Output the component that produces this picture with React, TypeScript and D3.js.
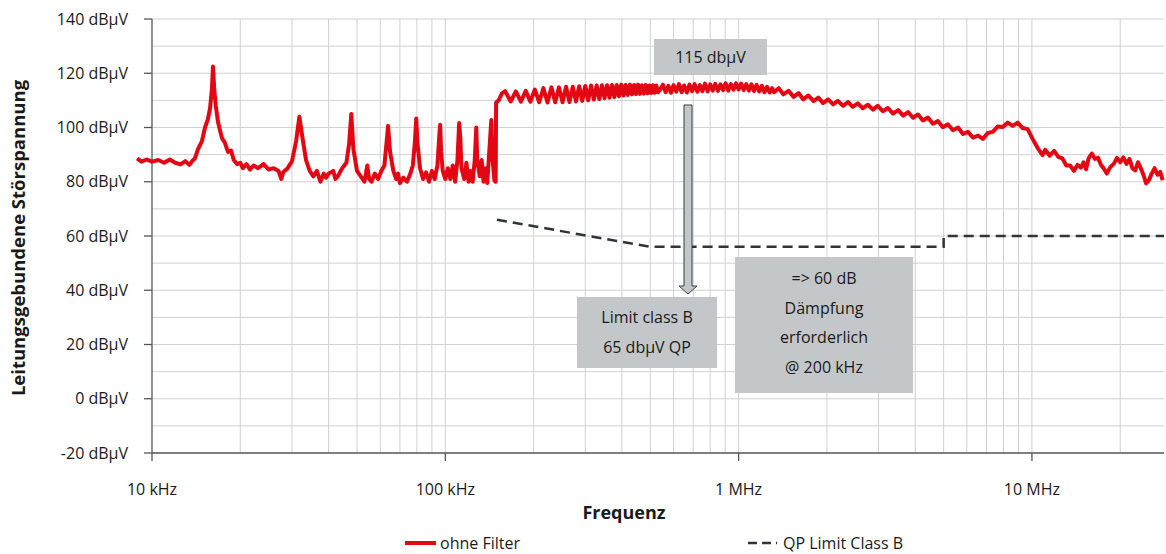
import React from 'react';
import * as d3 from 'd3';

const W = 1166;
const H = 554;
const M = { left: 152, right: 1164, top: 19, bottom: 453 };
const FONT = "'Open Sans', sans-serif";
const RED = '#e30613';
const DARK = '#2f3438';
const BOX = '#c3c7c9';

// spectrum "ohne Filter": [frequency kHz, level dBµV]
const harmonicsBand: [number, number][] = [
  [8.9, 88.6], [9.2, 87.4], [9.6, 88.2], [10, 87.4], [10.5, 88], [11, 87], [11.5, 88.2], [12, 87],
  [12.5, 86.4], [13, 87.6], [13.4, 86.2], [13.8, 88], [14.0, 88.5], [14.35, 92], [14.8, 95],
  [15.16, 100], [15.5, 103], [15.77, 107], [16.0, 114], [16.14, 122.5], [16.3, 114], [16.5, 108],
  [16.79, 102], [17.05, 99], [17.33, 96], [17.7, 94.5], [18.16, 91], [18.6, 91.5], [19.0, 88],
  [19.49, 86.5], [20.0, 87], [20.4, 85], [21, 86.5], [21.6, 84.5], [22.2, 86], [23, 85], [24, 86.5],
  [25, 84.5], [26, 85], [27, 84], [27.6, 81], [28, 83.5], [29, 85], [30, 87.5], [31, 95],
  [31.8, 104], [32.5, 97], [33.5, 88], [34.5, 84], [35.5, 82], [36.5, 84], [37.5, 80], [38.5, 83],
  [39.2, 81.5], [40, 83], [41.5, 84], [42.2, 81], [43, 82], [44.5, 85], [46, 87], [47, 94],
  [47.8, 105], [48.6, 92], [50, 84], [51.5, 82], [53, 80], [54.2, 86], [55, 81], [56, 80],
  [57.5, 83], [59, 81], [60.5, 84], [62, 86], [63, 94], [63.8, 100.6], [64.8, 91], [66.5, 84],
  [68, 81], [69, 83], [70, 79.5], [72, 81.5], [74, 80], [76, 83], [77.5, 86], [78.8, 95],
  [79.6, 103.3], [80.4, 94], [82, 85], [84, 81], [86, 83.5], [88, 80], [90, 84], [92, 81], [94, 86],
  [95.4, 97], [96, 101], [96.8, 91], [98, 84], [100, 81], [102, 85], [104, 81], [106, 86], [108, 80],
  [110, 88], [111.5, 101.7], [112.5, 96], [113.5, 85], [116, 81], [118, 87], [120, 80], [122, 84],
  [124, 80], [126, 88], [127.5, 100], [128.5, 88], [131, 82], [133, 88], [135, 80], [137, 85],
  [139, 79.5], [141, 90], [143.5, 102.8], [145, 88], [147, 80.5], [148.5, 80],
];

const rippleBand: [number, number][] = [
  [149, 109.2], [152, 110], [156, 112.6], [160, 113.4], [167, 109.6], [174, 113.3], [181, 109.5],
  [188, 113.5], [195, 109.5], [202, 114], [209, 109.3], [216, 114.5], [223, 109.2], [230, 114.8],
  [237, 109.3], [244, 114.8], [251, 109.3], [258, 115], [265, 109.4], [272, 115], [279, 109.6],
  [286, 115.2], [293, 109.8], [300, 115.3], [307, 110], [314, 115.5], [321, 110.3], [328, 115.5],
  [335, 110.5], [342, 115.6], [349, 110.8], [356, 115.6], [363, 111], [370, 115.7], [377, 111.2],
  [384, 115.7], [391, 111.5], [398, 115.8], [405, 111.8], [412, 115.7], [419, 112], [426, 115.8],
  [433, 112.2], [440, 115.7], [447, 112.3], [454, 115.8], [461, 112.4], [468, 115.6], [475, 112.5],
  [482, 115.7], [489, 112.6], [496, 115.5], [503, 112.7], [510, 115.6], [517, 112.8], [524, 115.5],
  [531, 113],
];

const plateauBand: [number, number][] = [
  [540, 114], [552, 115.8], [564, 113], [576, 115.4], [588, 112.8], [600, 115.6], [613, 113.2],
  [626, 116], [639, 113], [652, 115.5], [666, 112.9], [680, 115.8], [694, 113.4], [708, 116],
  [723, 113.2], [738, 115.6], [753, 113.4], [768, 116.2], [784, 113.3], [800, 115.9], [816, 113.6],
  [833, 116.1], [850, 113.5], [867, 115.9], [885, 113.8], [903, 116.3], [922, 113.6], [941, 116],
  [960, 113.9], [980, 116.3], [1000, 114], [1020, 116.2], [1041, 113.8], [1062, 116],
  [1084, 113.6], [1106, 115.9], [1129, 113.5], [1152, 115.7], [1176, 113.3], [1200, 115.4],
  [1225, 113], [1250, 115], [1276, 112.9], [1300, 114.5],
];

const slopeBand: [number, number][] = [
  [1320, 113], [1370, 114.5], [1420, 112.2], [1480, 113.5], [1540, 111.3], [1600, 112.7],
  [1660, 110.4], [1730, 111.8], [1800, 109.7], [1870, 111], [1940, 109], [2020, 110.4],
  [2100, 108.5], [2180, 109.8], [2270, 108], [2360, 109.4], [2450, 107.6], [2550, 108.9],
  [2650, 107.1], [2760, 108.4], [2870, 106.6], [2980, 108], [3100, 106], [3230, 107.2],
  [3360, 105.1], [3500, 106.4], [3640, 104.4], [3780, 105.7], [3930, 103.6], [4090, 104.8],
  [4250, 102.6], [4420, 103.7], [4600, 101.4], [4780, 102.4], [4970, 100.1], [5170, 101.2],
  [5380, 99], [5600, 100], [5820, 97.6], [6050, 98.4], [6300, 96.3], [6550, 97], [6800, 95.8],
  [7070, 98], [7350, 98.4], [7650, 100.4], [7950, 100.2], [8270, 101.8], [8600, 100.6],
  [8940, 101.8], [9300, 99.8], [9670, 99.4], [10050, 95.8], [10450, 92.5], [10870, 89.8],
];

const tailBand: [number, number][] = [
  [11100, 91.8], [11500, 89.6], [11900, 91.4], [12300, 89.2], [12700, 88.6], [13100, 86],
  [13500, 86], [13900, 84], [14300, 86.2], [14700, 85.2], [15000, 87.2], [15300, 84.6],
  [15600, 88.6], [16000, 90.4], [16400, 88.4], [16800, 88.8], [17200, 86.2], [17600, 84.8],
  [18000, 83], [18500, 85.4], [19000, 86.6], [19500, 88.8], [20000, 87.2], [20500, 89],
  [21000, 86.6], [21500, 88.4], [22000, 85], [22500, 84.2], [23000, 87.2], [23500, 85],
  [24000, 82.5], [24500, 79.4], [25000, 80.4], [25600, 83], [26200, 85], [26800, 82.6],
  [27400, 83.6], [27900, 80.6],
];

// QP limit class B: [frequency kHz, dBµV]
const limitClassB: [number, number][] = [
  [150, 66], [500, 56], [5000, 56], [5000, 60], [30000, 60],
];

const yTicks = [-20, 0, 20, 40, 60, 80, 100, 120, 140];
const xTickValues = [10, 100, 1000, 10000];
const xTickLabels = ['10 kHz', '100 kHz', '1 MHz', '10 MHz'];

export default function App() {
  const x = d3.scaleLog().domain([10, 28200]).range([M.left, M.right]);
  const y = d3.scaleLinear().domain([-20, 140]).range([M.bottom, M.top]);

  const spectrum = [...harmonicsBand, ...rippleBand, ...plateauBand, ...slopeBand, ...tailBand];
  const line = d3.line<[number, number]>().x(d => x(d[0])).y(d => y(d[1]));

  const gridX: number[] = [];
  [10, 100, 1000, 10000].forEach(dec => {
    for (let k = 1; k <= 9; k++) {
      const v = k * dec;
      if (v > 10 && v < 28200) gridX.push(v);
    }
  });
  const gridY = d3.range(-10, 141, 10);

  return (
    <svg width={W} height={H} style={{ position: 'absolute', left: 0, top: 0 }} fontFamily={FONT}>
      <defs>
        <clipPath id="plot">
          <rect x={M.left} y={0} width={M.right - M.left} height={H} />
        </clipPath>
      </defs>

      {gridY.map(v => (
        <line key={'gy' + v} x1={M.left} x2={M.right} y1={y(v)} y2={y(v)} stroke="#d0d0d0" strokeWidth={1} />
      ))}
      {gridX.map(v => (
        <line key={'gx' + v} x1={x(v)} x2={x(v)} y1={M.top} y2={M.bottom} stroke="#d0d0d0" strokeWidth={1} />
      ))}

      {/* axes */}
      <line x1={M.left} x2={M.left} y1={M.top} y2={M.bottom} stroke="#555" strokeWidth={1.3} />
      <line x1={M.left} x2={M.right} y1={M.bottom} y2={M.bottom} stroke="#555" strokeWidth={1.3} />
      {yTicks.map(v => (
        <g key={'yt' + v}>
          <line x1={M.left - 8} x2={M.left} y1={y(v)} y2={y(v)} stroke="#555" strokeWidth={1.3} />
          <text x={128} y={y(v) + 5.5} textAnchor="end" fontSize={16} fill="#1a1a1a">{v} dBµV</text>
        </g>
      ))}
      {xTickValues.map((v, i) => (
        <g key={'xt' + v}>
          <line x1={x(v)} x2={x(v)} y1={M.bottom} y2={M.bottom + 8} stroke="#555" strokeWidth={1.3} />
          <text x={x(v)} y={495} textAnchor="middle" fontSize={16} fill="#1a1a1a">{xTickLabels[i]}</text>
        </g>
      ))}

      <text x={624} y={519} textAnchor="middle" fontSize={18} fontWeight="bold" fill="#1a1a1a">Frequenz</text>
      <text transform="translate(25,238) rotate(-90)" textAnchor="middle" fontSize={18.5} fontWeight="bold" fill="#1a1a1a">
        Leitungsgebundene Störspannung
      </text>

      {/* limit line */}
      <path d={line(limitClassB) || ''} fill="none" stroke={DARK} strokeWidth={2.5} strokeDasharray="10,6" clipPath="url(#plot)" />

      {/* spectrum */}
      <path d={line(spectrum) || ''} fill="none" stroke={RED} strokeWidth={4} strokeLinejoin="round" />

      {/* annotations */}
      <rect x={654} y={39} width={113} height={36} fill={BOX} />
      <text x={710.5} y={63} textAnchor="middle" fontSize={16} fill="#1a1a1a">115 dbµV</text>

      <path d="M684,105 H692 V286 H697 L688,294 L679,286 H684 Z" fill={BOX} stroke="#3a3a3a" strokeWidth={1} />

      <rect x={577} y={297} width={140} height={71} fill={BOX} />
      <text x={647} y={323} textAnchor="middle" fontSize={16} fill="#1a1a1a">Limit class B</text>
      <text x={647} y={353} textAnchor="middle" fontSize={16} fill="#1a1a1a">65 dbµV QP</text>

      <rect x={735} y={257} width={178} height={136} fill={BOX} />
      {['=> 60 dB', 'Dämpfung', 'erforderlich', '@ 200 kHz'].map((t, i) => (
        <text key={t} x={824} y={284 + i * 29.7} textAnchor="middle" fontSize={16} fill="#1a1a1a">{t}</text>
      ))}

      {/* legend */}
      <line x1={405} x2={436} y1={543} y2={543} stroke={RED} strokeWidth={4} />
      <text x={440} y={549} fontSize={16} fill="#1a1a1a">ohne Filter</text>
      <line x1={748} x2={777} y1={543} y2={543} stroke={DARK} strokeWidth={2.5} strokeDasharray="9,5" />
      <text x={783} y={549} fontSize={16} fill="#1a1a1a">QP Limit Class B</text>
    </svg>
  );
}
